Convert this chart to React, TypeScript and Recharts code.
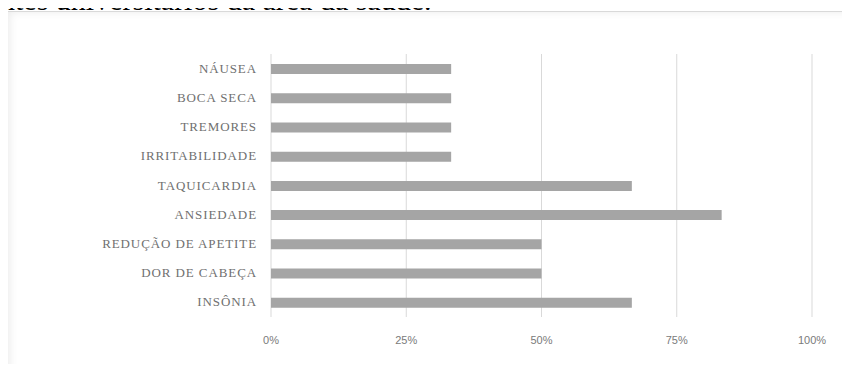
import React from "react";
import { BarChart, Bar, XAxis, YAxis, CartesianGrid } from "recharts";

const categories = [
  "NÁUSEA",
  "BOCA SECA",
  "TREMORES",
  "IRRITABILIDADE",
  "TAQUICARDIA",
  "ANSIEDADE",
  "REDUÇÃO DE APETITE",
  "DOR DE CABEÇA",
  "INSÔNIA",
];
const values = [0.333, 0.333, 0.333, 0.333, 0.667, 0.833, 0.5, 0.5, 0.667];
const xTicks = [0, 0.25, 0.5, 0.75, 1];
const captionText = "ntes universitários da área da saúde.";

const data = categories.map((c, i) => ({ name: c, value: values[i] }));

const CatTick = (props: any) => {
  const { x, y, payload } = props;
  return (
    <text
      x={x}
      y={y}
      dy={4}
      textAnchor="end"
      fill="#707070"
      fontFamily="'Liberation Serif', 'DejaVu Serif', serif"
      fontSize={13}
      letterSpacing={0.9}
    >
      {payload.value}
    </text>
  );
};

const PctTick = (props: any) => {
  const { x, y, payload } = props;
  return (
    <text
      x={x}
      y={y}
      dy={7}
      textAnchor="middle"
      fill="#7a7a7a"
      fontFamily="'Liberation Sans', 'DejaVu Sans', sans-serif"
      fontSize={11}
    >
      {Math.round(payload.value * 100) + "%"}
    </text>
  );
};

export default function App() {
  return (
    <div
      style={{
        position: "relative",
        margin: "-8px",
        width: 850,
        height: 372,
        overflow: "hidden",
        background: "#ffffff",
      }}
    >
      <div
        style={{
          position: "absolute",
          left: 7,
          top: 11,
          width: 860,
          height: 352,
          border: "1px solid #d9d9d9",
          boxShadow: "inset 8px 6px 8px -6px rgba(0,0,0,0.08)",
          background: "#fff",
        }}
      />
      <div
        style={{
          position: "absolute",
          left: 0,
          top: -17,
          fontFamily: "'Liberation Serif', 'Times New Roman', serif",
          fontSize: 30,
          color: "#000",
          whiteSpace: "nowrap",
          lineHeight: "34px",
          zIndex: 2,
        }}
      >
        {captionText}
      </div>
      <div style={{ position: "absolute", left: 0, top: 0 }}>
        <BarChart
          width={850}
          height={372}
          data={data}
          layout="vertical"
          margin={{ top: 54, right: 38, bottom: 25, left: 10 }}
          barCategoryGap={0}
        >
          <CartesianGrid horizontal={false} stroke="#d9d9d9" />
          <XAxis
            type="number"
            domain={[0, 1]}
            ticks={xTicks}
            axisLine={false}
            tickLine={false}
            height={30}
            tick={<PctTick />}
            tickMargin={14}
            interval={0}
          />
          <YAxis
            type="category"
            dataKey="name"
            width={261}
            axisLine={false}
            tickLine={false}
            tick={<CatTick />}
            tickMargin={8}
            interval={0}
          />
          <Bar dataKey="value" fill="#a5a5a5" barSize={10} isAnimationActive={false} />
        </BarChart>
      </div>
    </div>
  );
}
